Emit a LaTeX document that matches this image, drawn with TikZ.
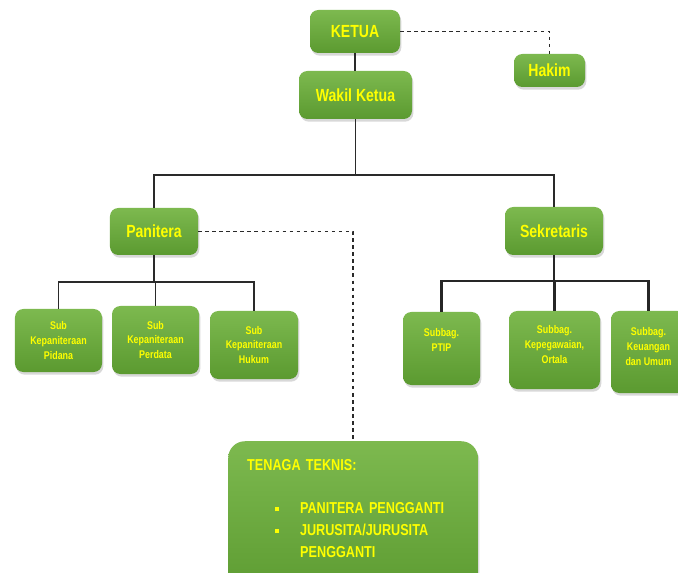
\documentclass[tikz,border=0pt]{standalone}
\usepackage{fontspec}
\usepackage{tikz}
\usepackage{xcolor}
\usetikzlibrary{shadows}
\newfontfamily\orgfont[FakeStretch=0.8]{Liberation Sans}
\definecolor{boxtop}{HTML}{7DB94F}
\definecolor{boxbot}{HTML}{5B9A30}
\definecolor{orgyellow}{HTML}{FFFF00}
\definecolor{orgline}{HTML}{2A2A2A}

\begin{document}
\begin{tikzpicture}[x=0.03cm,y=-0.03cm,
box/.style={rounded corners=0.25cm,top color=boxtop,bottom color=boxbot,text=orgyellow,align=center,inner sep=2pt,drop shadow={opacity=0.3,shadow xshift=0.4mm,shadow yshift=-0.8mm},font=\orgfont\bfseries\fontsize{15}{18}\selectfont},
subbox/.style={box,font=\orgfont\bfseries\fontsize{9.5}{12.5}\selectfont},
link/.style={draw=orgline,line width=1.1pt},
dashlink/.style={link,dashed},
boldlink/.style={draw=black!85,line width=2.2pt}
]
\useasboundingbox[fill=white] (0,0) rectangle (678,573);
\node[box,minimum width=2.7cm,minimum height=1.29cm] (ketua) at (355,31.5) {KETUA};
\node[box,minimum width=2.13cm,minimum height=0.99cm] (hakim) at (549.5,70.5) {Hakim};
\node[box,minimum width=3.39cm,minimum height=1.44cm] (wakil) at (355.5,95) {Wakil Ketua};
\node[box,minimum width=2.64cm,minimum height=1.41cm] (panitera) at (154,231.5) {Panitera};
\node[box,minimum width=2.94cm,minimum height=1.44cm] (sekretaris) at (554,231) {Sekretaris};
\node[subbox,minimum width=2.61cm,minimum height=1.89cm] (subpidana) at (58.5,340.5) {Sub\\Kepaniteraan\\Pidana};
\node[subbox,minimum width=2.61cm,minimum height=2.04cm] (subperdata) at (155.5,340) {Sub\\Kepaniteraan\\Perdata};
\node[subbox,minimum width=2.64cm,minimum height=2.04cm] (subhukum) at (254,345) {Sub\\Kepaniteraan\\Hukum};
\node[subbox,minimum width=2.31cm,minimum height=2.19cm] (ptip) at (441.5,348.5) {Subbag.\\PTIP\\[2pt]~};
\node[subbox,minimum width=2.73cm,minimum height=2.34cm] (kepeg) at (554.5,350) {Subbag.\\Kepegawaian,\\Ortala\\[-3pt]~};
\node[subbox,minimum width=2.25cm,minimum height=2.46cm] (keuangan) at (648.5,352) {Subbag.\\Keuangan\\dan Umum\\[-3pt]~};
\node[box,anchor=north west,rounded corners=0.5cm,align=left,text width=6.35cm,inner xsep=0.57cm,inner ysep=0.55cm,font=\orgfont\bfseries\fontsize{13.5}{18.7}\selectfont] (tenaga) at (228,441) {TENAGA TEKNIS:\\[18pt]
\hspace*{0.84cm}\rule[2pt]{3.5pt}{3.5pt}\hspace{0.62cm}PANITERA PENGGANTI\\
\hspace*{0.84cm}\rule[2pt]{3.5pt}{3.5pt}\hspace{0.62cm}JURUSITA/JURUSITA\\
\hspace*{1.59cm}PENGGANTI\\[4pt]~};
\coordinate (wbus) at (wakil.south |- 0,175);
\coordinate (pbus) at (panitera.south |- 0,282);
\coordinate (sbus) at (sekretaris.south |- 0,281);
\draw[link] (ketua.south) -- (ketua.south |- wakil.north);
\draw[dashlink] (ketua.east) -| (hakim.north);
\draw[link] (wakil.south) -- (wbus);
\draw[link] (wbus) -| (panitera.north);
\draw[link] (wbus) -| (sekretaris.north);
\draw[dashlink] (panitera.east) -| (tenaga.north);
\draw[link] (panitera.south) -- (pbus);
\draw[link] (pbus) -| (subpidana.north);
\draw[link] (pbus) -| (subperdata.north);
\draw[link] (pbus) -| (subhukum.north);
\draw[boldlink] (sekretaris.south) -- (sbus);
\draw[boldlink] (sbus) -| (ptip.north);
\draw[boldlink] (sbus) -| (kepeg.north);
\draw[boldlink] (sbus) -| (keuangan.north);
\end{tikzpicture}
\end{document}
